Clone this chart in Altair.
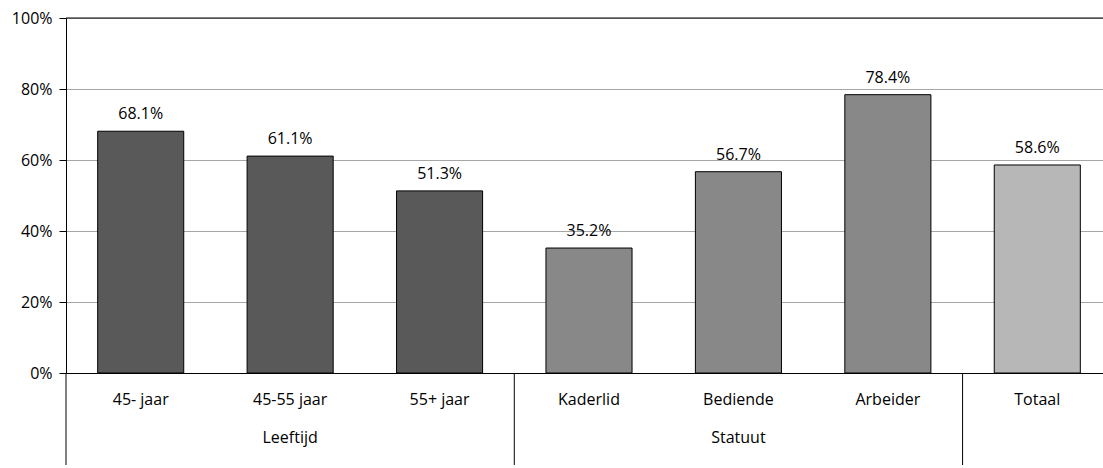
import altair as alt
import pandas as pd

categories = ["45- jaar", "45-55 jaar", "55+ jaar", "Kaderlid", "Bediende", "Arbeider", "Totaal"]
groups = ["Leeftijd", "Leeftijd", "Leeftijd", "Statuut", "Statuut", "Statuut", "Totaal"]
values = [68.1, 61.1, 51.3, 35.2, 56.7, 78.4, 58.6]
group_colors = {"Leeftijd": "#595959", "Statuut": "#888888", "Totaal": "#b7b7b7"}
group_label_names = ["Leeftijd", "Statuut"]
group_label_at = ["45-55 jaar", "Bediende"]
separator_at = ["45- jaar", "Kaderlid", "Totaal"]
y_ticks = [0, 20, 40, 60, 80, 100]

FONT = "Open Sans"
FS = 16
W, H = 1037, 355

df = pd.DataFrame({"cat": categories, "group": groups, "value": values})
df["label"] = [f"{v:.1f}%" for v in values]
df_groups = pd.DataFrame({"cat": group_label_at, "name": group_label_names})
df_sep = pd.DataFrame({"cat": separator_at})

xscale = alt.Scale(domain=categories, paddingInner=0, paddingOuter=0, range=[0, 1046])
yscale = alt.Scale(domain=[0, 100])

base = alt.Chart(df)

bars = base.mark_bar(
    width=alt.RelativeBandSize(0.576), stroke="black", strokeWidth=1
).encode(
    x=alt.X("cat:N", scale=xscale, sort=categories, title=None,
            axis=alt.Axis(labelAngle=0, ticks=False, labelPadding=18, labelFontSize=FS,
                          labelFont=FONT, labelColor="black", domainColor="black",
                          domainWidth=1, grid=False)),
    y=alt.Y("value:Q", scale=yscale, title=None,
            axis=alt.Axis(values=y_ticks, labelExpr="datum.value + '%'", tickSize=7,
                          tickColor="black", domainColor="black", labelFontSize=FS,
                          labelFont=FONT, labelColor="black", labelPadding=7,
                          gridColor="#a6a6a6", gridWidth=1)),
    color=alt.Color("group:N", scale=alt.Scale(domain=list(group_colors.keys()),
                                               range=list(group_colors.values())), legend=None),
)

labels = base.mark_text(dy=-9, baseline="bottom", fontSize=FS, font=FONT, color="black").encode(
    x=alt.X("cat:N", sort=categories),
    y=alt.Y("value:Q"),
    text="label:N",
)

top_line = alt.Chart(pd.DataFrame({"v": [100]})).mark_rule(color="black", strokeWidth=1).encode(
    y=alt.Y("v:Q")
)

group_text = alt.Chart(df_groups).mark_text(baseline="middle", fontSize=FS, font=FONT, color="black").encode(
    x=alt.X("cat:N", sort=categories),
    y=alt.value(H + 65),
    text="name:N",
)

seps = alt.Chart(df_sep).mark_rule(color="black", strokeWidth=1).encode(
    x=alt.X("cat:N", sort=categories, bandPosition=0),
    y=alt.value(H),
    y2=alt.value(H + 92),
)

chart = alt.layer(bars, labels, top_line, group_text, seps).properties(
    width=W, height=H,
    autosize=alt.AutoSizeParams(type="none"),
    padding={"left": 66, "top": 18, "right": 0, "bottom": 95},
).configure_view(stroke=None).configure(background="white")

chart.save("out.html", embed_options={"renderer": "svg", "actions": False})
